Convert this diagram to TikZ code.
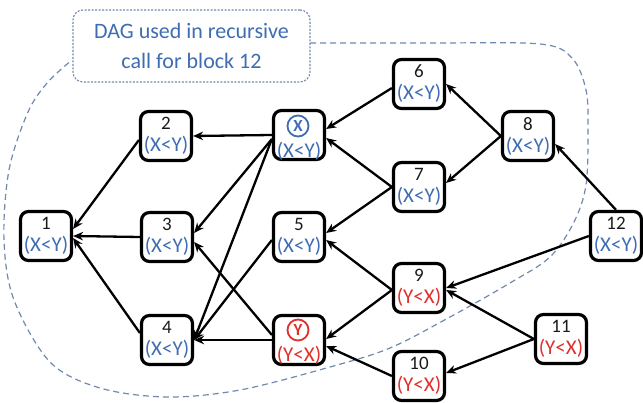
\documentclass[tikz,border=0pt]{standalone}
\usepackage{fontspec}
\setmainfont{Carlito}
\usetikzlibrary{arrows.meta}
\definecolor{lblue}{HTML}{3F6DB3}
\definecolor{lred}{HTML}{E0302B}
\definecolor{dashc}{HTML}{7089AD}
\definecolor{numc}{HTML}{1A1A1A}
\tikzset{
  blk/.style={draw=black, fill=white, line width=3.2pt, rounded corners=8pt,
    minimum width=51pt, minimum height=49pt, inner sep=0pt, align=center,
    font=\fontsize{19}{22}\selectfont, text=numc},
  edge/.style={line width=2.3pt, -{Stealth[length=10pt,width=8.5pt]}},
  bigdash/.style={draw=dashc, line width=1.2pt, dash pattern=on 6pt off 4pt},
  callout/.style={draw=dashc, line width=1.1pt, dash pattern=on 2pt off 1.5pt,
    rounded corners=10pt, fill=white, text=lblue, align=center,
    font=\fontsize{22}{30}\selectfont, minimum width=237pt, minimum height=72pt, inner sep=0pt},
  ring/.style={circle, line width=1.8pt, minimum size=21pt, inner sep=0pt,
    font=\fontsize{17}{18}\selectfont\bfseries},
  lbl/.style={inner sep=0pt, font=\fontsize{21}{22}\selectfont},
}
\newcommand\XY{{\color{lblue}\fontsize{21}{22}\selectfont (X<Y)}}
\newcommand\YX{{\color{lred}\fontsize{21}{22}\selectfont (Y<X)}}
\begin{document}
\begin{tikzpicture}[x=1pt,y=-1pt]
\useasboundingbox (0,0) rectangle (643,403);
% big dashed region
\draw[bigdash] plot[smooth, tension=0.55] coordinates {
  (310,43) (430,43) (540,44) (572,58) (586,90) (588,130) (586,185) (574,222)
  (550,257) (510,283) (450,317) (390,348) (330,367) (240,390) (167,397)
  (100,388) (50,362) (14,300) (4,240) (9,170) (28,112) (48,82) (72,60)};
% callout
\node[callout] (call) at (191.5,46) {DAG used in recursive\\call for block 12};
% nodes
\node[blk] (n1)  at (46,236)  {1\\\XY};
\node[blk] (n2)  at (166,136) {2\\\XY};
\node[blk] (xn)  at (299,135) {};
\node[blk] (n3)  at (167,237) {3\\\XY};
\node[blk] (n5)  at (299,237) {5\\\XY};
\node[blk] (n4)  at (167,340) {4\\\XY};
\node[blk] (yn)  at (299,340) {};
\node[blk] (n6)  at (419,84)  {6\\\XY};
\node[blk] (n7)  at (419,187) {7\\\XY};
\node[blk] (n8)  at (528,136) {8\\\XY};
\node[blk] (n9)  at (419,288) {9\\\YX};
\node[blk] (n10) at (419,376) {10\\\YX};
\node[blk] (n11) at (561,339) {11\\\YX};
\node[blk] (n12) at (616,236) {12\\\XY};
% contents of the X and Y blocks
\node[ring, draw=lblue, text=lblue] (xr) at (298,126) {X};
\node[lbl, text=lblue] (xl) at (299,151) {(X<Y)};
\node[ring, draw=lred, text=lred] (yr) at (298,330) {Y};
\node[lbl, text=lred] (yl) at (299,355) {(Y<X)};
% edges
\draw[edge] (xn.west) -- (n2.east);
\draw[edge] ([yshift=-4pt]n2.west) -- ([yshift=7pt]n1.east);
\draw[edge] (n3.west) -- (n1.east);
\draw[edge] ([yshift=7pt]n4.west) -- ([yshift=-2pt]n1.east);
\draw[edge] ([yshift=-4pt]xn.west) -- ([yshift=4pt]n3.east);
\draw[edge] ([yshift=-4pt]xn.west) -- (n4.east);
\draw[edge] ([yshift=-3pt]n5.west) -- (n4.east);
\draw[edge] ([yshift=5pt]yn.west) -- ([yshift=-5pt]n3.east);
\draw[edge] (yn.west) -- (n4.east);
\draw[edge] ([yshift=-4pt]n6.west) -- ([yshift=6pt]xn.east);
\draw[edge] (n7.west) -- ([yshift=-3pt]xn.east);
\draw[edge] (n7.west) -- ([yshift=4pt]n5.east);
\draw[edge] ([yshift=-2pt]n9.west) -- ([yshift=-3pt]n5.east);
\draw[edge] ([yshift=-2pt]n9.west) -- ([yshift=1pt]yn.east);
\draw[edge] (n10.west) -- ([yshift=-6pt]yn.east);
\draw[edge] (n8.west) -- (n6.east);
\draw[edge] (n8.west) -- ([yshift=4pt]n7.east);
\draw[edge] (n11.west) -- ([yshift=-2pt]n9.east);
\draw[edge] (n11.west) -- ([yshift=3pt]n10.east);
\draw[edge] (n12.west) -- (n9.east);
\draw[edge] (n12.north) -- ([yshift=-8pt]n8.east);
\end{tikzpicture}
\end{document}
